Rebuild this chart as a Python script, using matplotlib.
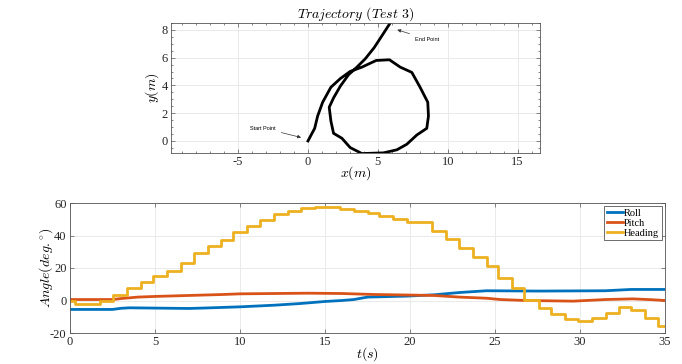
import matplotlib
matplotlib.use('Agg')
import matplotlib.pyplot as plt
from matplotlib.ticker import MultipleLocator

plt.rcParams['font.family'] = ['Liberation Serif', 'DejaVu Serif']
plt.rcParams['mathtext.fontset'] = 'cm'
plt.rcParams['axes.unicode_minus'] = False

# trajectory (m)
traj_x = [0, 0.48, 0.69, 1.05, 1.64, 2.31, 3.02, 3.86, 4.88, 5.83, 6.6, 7.43, 8.02, 8.57, 8.62,
          8.5, 7.79, 7.07, 6.36, 5.4, 3.86, 3.02, 2.43, 1.83, 1.64, 1.52, 1.83, 2.31, 2.9, 3.5,
          4.1, 4.74, 5.33, 5.88]
traj_y = [0, 0.91, 1.79, 2.79, 3.87, 4.49, 5.01, 5.32, 5.8, 5.85, 5.32, 4.94, 3.87, 2.79, 1.79,
          0.91, 0.43, -0.24, -0.64, -0.86, -0.91, -0.48, 0.19, 0.55, 1.43, 2.43, 3.1, 3.94, 4.77,
          5.32, 5.92, 6.73, 7.64, 8.5]

# attitude angles (deg)
roll_t = [0, 2.5, 3.0, 3.5, 7, 8, 10, 12, 13.5, 15, 16, 16.7, 17.5, 19.8, 21.4, 22.9, 24.5,
          27.6, 31.5, 33, 35]
roll_v = [-5.5, -5.5, -4.8, -4.5, -4.9, -4.6, -3.9, -2.9, -1.9, -0.6, 0, 0.6, 2.1, 2.7, 3.5,
          4.9, 6.0, 5.8, 6.0, 6.8, 6.8]

pitch_t = [0, 2.5, 3, 4, 5, 7, 9, 10, 12, 14, 16, 17.9, 21.4, 22.9, 24.5, 25.3, 26.8, 29.6,
           31.5, 33.1, 34.2, 35]
pitch_v = [0.6, 0.6, 1.2, 2.1, 2.5, 3.1, 3.7, 4.1, 4.3, 4.5, 4.3, 3.7, 3.1, 2.1, 1.4, 0.6, 0.0,
           -0.4, 0.6, 1.0, 0.5, 0.0]

heading_t = [0, 0.3, 1.76, 2.55, 3.35, 4.15, 4.9, 5.7, 6.5, 7.3, 8.1, 8.9, 9.6, 10.4, 11.2,
             12.0, 12.8, 13.6, 14.4, 15.9, 16.7, 17.5, 18.2, 19.0, 19.8, 21.3, 22.1, 22.9,
             23.7, 24.5, 25.2, 26.0, 26.7, 27.6, 28.3, 29.1, 29.9, 30.7, 31.5, 32.3, 33.0,
             33.8, 34.6, 35]
heading_v = [0, -2, 0, 3.5, 7.8, 11.3, 15.3, 18.4, 22.9, 29.1, 33.4, 37.3, 41.9, 45.8, 49.7,
             53.0, 55.1, 56.9, 57.4, 56.5, 55.3, 53.8, 51.8, 49.9, 48.3, 42.9, 37.7, 32.4,
             26.8, 21.2, 14.0, 7.4, 0.6, -4.9, -8.2, -11.3, -12.6, -10.7, -7.6, -3.9, -6.0,
             -10.7, -15.9, -15.9]

fig = plt.figure(figsize=(6.82, 3.64), dpi=100)

def style(ax):
    for s in ax.spines.values():
        s.set_color('#555555')
        s.set_linewidth(0.6)
    ax.tick_params(which='both', direction='in', top=True, right=True,
                   colors='#555555', labelcolor='#262626', labelsize=9, width=0.5, pad=2.5)
    ax.tick_params(which='major', length=3)
    ax.tick_params(which='minor', length=1.5)
    ax.grid(True, color='#e6e6e6', lw=0.6)
    ax.set_axisbelow(True)

# top: trajectory
ax1 = fig.add_axes([171/682, 1-153/364, 369/682, 130/364])
ax1.plot(traj_x, traj_y, color='k', lw=2)
ax1.set_xlim(-9.8, 16.6)
ax1.set_ylim(-0.87, 8.5)
ax1.set_xticks([-5, 0, 5, 10, 15])
ax1.set_yticks([0, 2, 4, 6, 8])
ax1.xaxis.set_minor_locator(MultipleLocator(1))
ax1.yaxis.set_minor_locator(MultipleLocator(0.5))
style(ax1)
ax1.set_title(r'$Trajectory\ (Test\ 3)$', fontsize=10, pad=2)
ax1.set_xlabel(r'$x(m)$', fontsize=10, labelpad=-3)
ax1.set_ylabel(r'$y(m)$', fontsize=10, labelpad=0)
arrow = dict(arrowstyle='-|>', color='#333333', lw=0.5, mutation_scale=5)
ax1.annotate('Start Point', xy=(-0.3, 0.2), xytext=(-2.3, 0.93), fontsize=4,
             family='Liberation Sans', ha='right', va='center', arrowprops=arrow)
ax1.annotate('End Point', xy=(6.2, 8.07), xytext=(7.65, 7.33), fontsize=4,
             family='Liberation Sans', ha='left', va='center', arrowprops=arrow)

# bottom: angles
ax2 = fig.add_axes([70/682, 1-333/364, 595/682, 130/364])
ax2.plot(roll_t, roll_v, color='#0072BD', lw=2, label='Roll')
ax2.plot(pitch_t, pitch_v, color='#D95319', lw=2, label='Pitch')
ax2.plot(heading_t, heading_v, color='#EDB120', lw=2, label='Heading', drawstyle='steps-post')
ax2.set_xlim(0, 35)
ax2.set_ylim(-20, 60)
ax2.set_xticks(range(0, 36, 5))
ax2.set_yticks([-20, 0, 20, 40, 60])
style(ax2)
ax2.set_xlabel(r'$t(s)$', fontsize=10, labelpad=-2)
ax2.set_ylabel(r'$Angle(deg.^{\circ})$', fontsize=10, labelpad=-4)
leg = ax2.legend(loc='upper right', fontsize=7.5, handlelength=1.5, handletextpad=0.15,
                 labelspacing=0.05, borderpad=0.25, fancybox=False, framealpha=1,
                 borderaxespad=0.3)
leg.get_frame().set_edgecolor('#555555')
leg.get_frame().set_linewidth(0.6)

fig.savefig('out.png', dpi=100)
